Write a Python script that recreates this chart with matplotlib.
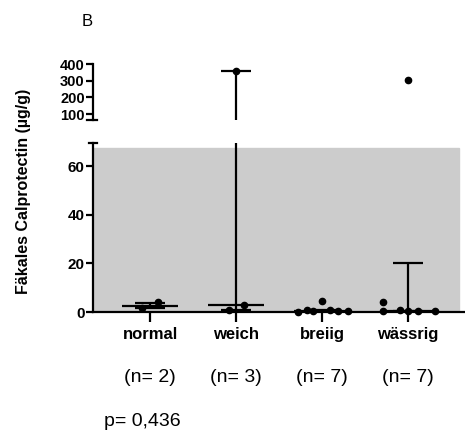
import numpy as np
import matplotlib
matplotlib.use('Agg')
import matplotlib.pyplot as plt
from matplotlib.lines import Line2D

plt.rcParams['font.family'] = ['Liberation Sans', 'DejaVu Sans']

# Daten
groups = ['normal', 'weich', 'breiig', 'wässrig']
n_labels = ['(n= 2)', '(n= 3)', '(n= 7)', '(n= 7)']
values = [[1.5, 4.0],
          [1.0, 3.0, 360.0],
          [0.2, 0.8, 0.5, 4.5, 0.8, 0.3, 0.3],
          [4.0, 0.3, 0.8, 304.0, 0.5, 0.3, 0.3]]
medians = [2.5, 3.0, 0.5, 0.5]
lower = [1.5, 1.0, 0.3, 0.3]
upper = [3.7, 360.0, 0.8, 20.0]
ref_limit = 67.5
p_text = 'p= 0,436'

# Streuung der Punkte (Layout)
offsets = [[-0.09, 0.09],
           [-0.08, 0.09, 0.0],
           [-0.28, -0.18, -0.1, 0.0, 0.09, 0.19, 0.3],
           [-0.29, -0.29, -0.09, 0.0, 0.0, 0.12, 0.31]]

fig = plt.figure(figsize=(4.65, 4.34), dpi=100)
ax = fig.add_axes([0.2, 0.2811, 0.8, 0.3894])
ax_top = fig.add_axes([0.2, 0.7235, 0.8, 0.129])

xpos = np.arange(1, len(groups) + 1)
lw = 1.6

for a in (ax, ax_top):
    a.set_xlim(0.337, 4.663)
    a.patch.set_alpha(0)
    for i, x in enumerate(xpos):
        a.vlines(x, lower[i], upper[i], color='black', lw=lw, zorder=3)
        a.hlines(medians[i], x - 0.33, x + 0.33, color='black', lw=lw, zorder=3)
        a.hlines(upper[i], x - 0.17, x + 0.17, color='black', lw=lw, zorder=3)
        a.hlines(lower[i], x - 0.17, x + 0.17, color='black', lw=lw, zorder=3)
        a.plot(x + np.array(offsets[i]), values[i], 'o', color='black', ms=4.5, zorder=4,
               clip_on=(a is ax_top))
    for s in ['top', 'right']:
        a.spines[s].set_visible(False)
    a.spines['left'].set_linewidth(lw)
    a.tick_params(axis='y', direction='out', length=5, width=lw, pad=1)

# unterer Teil
ax.axhspan(0, ref_limit, xmin=0, xmax=0.984, color='#cccccc', zorder=0)
ax.set_ylim(0, 69.5)
ax.set_yticks([0, 20, 40, 60])
ax.set_yticklabels(['0', '20', '40', '60'], fontweight='bold', fontsize=11)
ax.spines['bottom'].set_linewidth(lw)
ax.set_xticks(xpos)
ax.set_xticklabels(groups, fontweight='bold', fontsize=12)
ax.tick_params(axis='x', direction='out', length=7.5, width=lw, pad=3)
ax.add_line(Line2D([-0.011, 0.011], [1, 1], transform=ax.transAxes, color='black',
                   lw=lw, clip_on=False))

# oberer Teil
ax_top.set_ylim(64, 400)
ax_top.set_yticks([100, 200, 300, 400])
ax_top.set_yticklabels(['100', '200', '300', '400'], fontweight='bold', fontsize=10.5)
ax_top.spines['bottom'].set_visible(False)
ax_top.set_xticks([])
ax_top.add_line(Line2D([-0.016, 0.011], [0, 0], transform=ax_top.transAxes, color='black',
                       lw=lw, clip_on=False))

fig.text(24 / 465, 1 - 191 / 434, 'Fäkales Calprotectin (µg/g)', rotation=90,
         ha='center', va='center', fontweight='bold', fontsize=11.5)
fig.text(87 / 465, 1 - 21 / 434, 'B', ha='center', va='center', fontsize=12)
for i, t in enumerate(n_labels):
    xf = (150 + 86 * i) / 465
    fig.text(xf, 1 - 378 / 434, t, ha='center', va='center', fontsize=14)
fig.text(104 / 465, 1 - 421 / 434, p_text, ha='left', va='center', fontsize=14)

fig.savefig('out.png', dpi=100)
